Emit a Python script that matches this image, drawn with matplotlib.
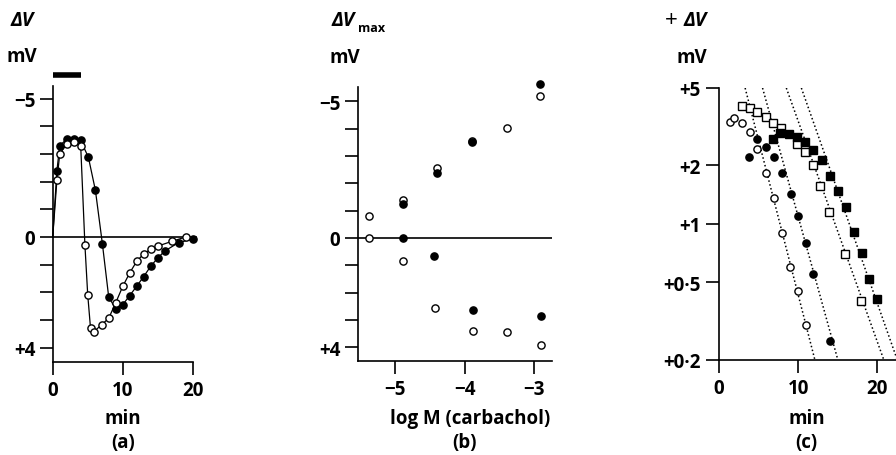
import matplotlib
matplotlib.use("Agg")
import matplotlib.pyplot as plt
import numpy as np

plt.rcParams['font.family'] = ['Open Sans', 'DejaVu Sans']
plt.rcParams['font.weight'] = 'bold'
plt.rcParams['axes.unicode_minus'] = True

# ---------------- data ----------------
# (a) time course of potential change (mV, negative = up)
a_open_t = [0, 0.6, 1.0, 2.0, 3.0, 4.0, 4.6, 5.0, 5.4, 5.9, 7.0, 8.0, 9.0, 10.0, 11.0, 12.0, 13.0, 14.0, 15.0, 17.0, 19.0]
a_open_v = [0, -2.05, -2.99, -3.38, -3.44, -3.30, 0.28, 2.08, 3.29, 3.42, 3.17, 2.94, 2.38, 1.79, 1.30, 0.88, 0.61, 0.45, 0.33, 0.16, 0.0]
a_fill_t = [0, 0.6, 1.0, 2.0, 3.0, 4.0, 5.1, 6.1, 7.1, 8.0, 9.0, 10.0, 11.0, 12.0, 13.0, 14.0, 15.0, 16.0, 18.0, 20.0]
a_fill_v = [0, -2.39, -3.30, -3.54, -3.56, -3.49, -2.88, -1.69, 0.25, 2.17, 2.60, 2.45, 2.12, 1.78, 1.43, 1.06, 0.76, 0.51, 0.20, 0.08]
a_bar = [0, 4]
a_yticks = [-5, -4, -3, -2, -1, 0, 1, 2, 3, 4]
a_ylabels = ['−5', '', '', '', '', '0', '', '', '', '+4']
a_xticks = [0, 10, 20]

# (b) peak potential change vs log concentration
b_open_x = [-5.38, -5.38, -4.89, -4.89, -4.40, -4.43, -3.89, -3.88, -3.40, -3.40, -2.92, -2.905]
b_open_v = [-0.79, 0.0, -1.39, 0.86, -2.54, 2.57, -3.54, 3.42, -4.01, 3.44, -5.19, 3.93]
b_fill_x = [-4.89, -4.89, -4.40, -4.44, -3.89, -3.88, -2.92, -2.905]
b_fill_v = [0.0, -1.24, -2.37, 0.67, -3.52, 2.63, -5.62, 2.86]
b_xticks = [-5, -4, -3]
b_xlabels = ['−5', '−4', '−3']

# (c) recovery on log scale
c_oc_t = [1.35, 1.9, 2.9, 3.9, 4.8, 5.9, 6.9, 8.0, 9.0, 10.0, 10.95]
c_oc_v = [3.33, 3.49, 3.29, 2.97, 2.42, 1.82, 1.36, 0.90, 0.60, 0.45, 0.30]
c_fc_t = [3.8, 4.8, 5.9, 6.9, 8.0, 9.05, 10.0, 10.95, 11.9, 14.0]
c_fc_v = [2.22, 2.73, 2.50, 2.22, 1.82, 1.42, 1.10, 0.80, 0.55, 0.25]
c_os_t = [2.9, 3.9, 4.8, 5.9, 6.85, 7.85, 9.85, 10.8, 11.85, 12.8, 13.9, 15.9, 17.9]
c_os_v = [4.02, 3.93, 3.78, 3.55, 3.32, 3.12, 2.58, 2.35, 2.00, 1.57, 1.15, 0.70, 0.40]
c_fs_t = [6.85, 7.7, 8.8, 9.8, 10.9, 11.9, 13.0, 14.0, 15.0, 16.0, 17.0, 18.0, 18.9, 19.9]
c_fs_v = [2.73, 2.92, 2.90, 2.80, 2.64, 2.39, 2.13, 1.76, 1.47, 1.22, 0.91, 0.71, 0.52, 0.41]
# fitted dotted lines: (t at +5 mV, t at +0.2 mV)
c_fit_start = [3.3, 5.5, 8.5, 10.4]
c_fit_end = [12.1, 15.0, 20.8, 22.5]
c_yticks = [0.2, 0.5, 1, 2, 5]
c_ylabels = ['+0·2', '+0·5', '+1', '+2', '+5']
c_xticks = [0, 10, 20]

# ---------------- figure ----------------
W, H = 896, 456
fig = plt.figure(figsize=(W / 100, H / 100), dpi=100)

def rect(x0, y0, x1, y1):
    return [x0 / W, 1 - y1 / H, (x1 - x0) / W, (y1 - y0) / H]

FS = 13.5

def ftext(x, y, s, **kw):
    kw.setdefault('fontsize', FS)
    kw.setdefault('fontweight', 'bold')
    kw.setdefault('va', 'center')
    fig.text(x / W, 1 - y / H, s, **kw)

LW = 1.2

def style(ax):
    for s in ['top', 'right']:
        ax.spines[s].set_visible(False)
    for s in ['left', 'bottom']:
        ax.spines[s].set_linewidth(LW)
    ax.tick_params(direction='out', length=9.5, width=LW, labelsize=FS)
    ax.tick_params(axis='y', pad=3)
    ax.tick_params(axis='x', pad=4)
    for lab in ax.get_xticklabels() + ax.get_yticklabels():
        lab.set_fontweight('bold')

mk = dict(ms=5.2, mew=1.0, mec='black')

# ---- (a) ----
axa = fig.add_axes(rect(52.7, 87, 192.7, 362.7))
axa.set_xlim(0, 20)
axa.set_ylim(4.51, -5.46)
axa.axhline(0, color='black', lw=LW, xmin=0, xmax=1.02, clip_on=False)
axa.plot(a_fill_t, a_fill_v, '-', color='black', lw=0.9, marker='o', mfc='black',
         markevery=list(range(1, len(a_fill_t))), clip_on=False, zorder=3, **mk)
axa.plot(a_open_t, a_open_v, '-', color='black', lw=0.9, marker='o', mfc='white',
         markevery=list(range(1, len(a_open_t))), clip_on=False, zorder=4, **mk)
axa.plot(a_bar, [-5.86, -5.86], color='black', lw=4, solid_capstyle='butt', clip_on=False)
axa.set_yticks(a_yticks)
axa.set_yticklabels(a_ylabels)
axa.set_xticks(a_xticks)
axa.set_xticklabels([str(v) for v in a_xticks])
style(axa)

# ---- (b) ----
axb = fig.add_axes(rect(357.7, 88.3, 551.7, 361.7))
axb.set_xlim(-5.535, -2.752)
axb.set_ylim(4.49, -5.51)
axb.axhline(0, color='black', lw=LW)
axb.plot(b_open_x, b_open_v, 'o', mfc='white', clip_on=False, zorder=3, **mk)
axb.plot(b_fill_x, b_fill_v, 'o', mfc='black', clip_on=False, zorder=4, **mk)
axb.set_yticks(a_yticks)
axb.set_yticklabels(a_ylabels)
axb.set_xticks(b_xticks)
axb.set_xticklabels(b_xlabels)
style(axb)

# ---- (c) ----
axc = fig.add_axes(rect(719, 89, 896, 360.7))
axc.set_yscale('log')
axc.set_xlim(0, 177 / 7.92)
axc.set_ylim(0.2, 5.0)
for t0, t1 in zip(c_fit_start, c_fit_end):
    axc.plot([t0, t1], [5.0, 0.2], color='black', lw=1.1, ls=(0, (1, 1.6)), zorder=2)
axc.plot(c_os_t, c_os_v, 's', mfc='white', clip_on=False, zorder=3, **mk)
axc.plot(c_fs_t, c_fs_v, 's', mfc='black', clip_on=False, zorder=4, **mk)
axc.plot(c_oc_t, c_oc_v, 'o', mfc='white', clip_on=False, zorder=3, **mk)
axc.plot(c_fc_t, c_fc_v, 'o', mfc='black', clip_on=False, zorder=4, **mk)
axc.set_yticks(c_yticks)
axc.set_yticklabels(c_ylabels)
axc.yaxis.set_minor_locator(matplotlib.ticker.NullLocator())
axc.set_xticks(c_xticks)
axc.set_xticklabels([str(v) for v in c_xticks])
style(axc)
axc.tick_params(axis='y', pad=4)

# ---- labels ----
ftext(10, 21, 'ΔV', style='italic', fontsize=14)
ftext(6, 57, 'mV')
ftext(331, 21, 'ΔV', style='italic', fontsize=14)
ftext(358, 28, 'max', fontsize=9)
ftext(329, 58, 'mV')
ftext(665, 21, '+', fontweight='normal', fontsize=16)
ftext(683, 21, 'ΔV', style='italic', fontsize=14)
ftext(676, 58, 'mV')

ftext(123, 419, 'min', ha='center')
ftext(123, 443, '(a)', ha='center')
ftext(470, 419, 'log M (carbachol)', ha='center')
ftext(464, 443, '(b)', ha='center')
ftext(807, 419, 'min', ha='center')
ftext(806, 443, '(c)', ha='center')

fig.savefig('out.png', dpi=100)
